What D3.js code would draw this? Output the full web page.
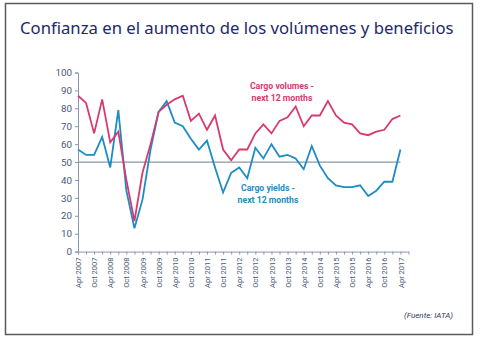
<!DOCTYPE html>
<html lang="es">
<head>
  <meta charset="UTF-8">
  <title>Confianza en el aumento de los volúmenes y beneficios</title>
  <script src="https://d3js.org/d3.v7.min.js"></script>
  <style>
    body { margin: 0; background: #fff; }
    svg { display: block; }
  </style>
</head>
<body>
  <div id="chart"></div>
  <script>
    // quarterly periods, Apr 2007 .. Apr 2017 (plus one empty quarter at the end of the axis)
    const months = ["Jan", "Apr", "Jul", "Oct"];
    const periods = [];
    for (let y = 2007; y <= 2017; y++) {
      for (const m of months) periods.push(m + " " + y);
    }
    const axisPeriods = periods.slice(1, 43); // Apr 2007 .. Jul 2017
    const dataPeriods = axisPeriods.slice(0, 41); // Apr 2007 .. Apr 2017

    const volumes = [87, 83, 66, 85, 61, 67, 40, 17, 44, 60, 78, 82, 85, 87, 73, 77, 68, 76, 57, 51,
                     57, 57, 66, 71, 66, 73, 75, 81, 70, 76, 76, 84, 76, 72, 71, 66, 65, 67, 68, 74, 76];
    const yields = [57, 54, 54, 64, 47, 79, 34, 13, 29, 57, 78, 84, 72, 70, 63, 57, 62, 47, 33, 44,
                    47, 41, 58, 52, 60, 53, 54, 52, 46, 59, 48, 41, 37, 36, 36, 37, 31, 34, 39, 39, 57];

    const yTicks = [0, 10, 20, 30, 40, 50, 60, 70, 80, 90, 100];
    const refValue = 50;

    const W = 480, H = 343;
    const svg = d3.select("#chart").append("svg")
      .attr("width", W).attr("height", H);

    // frame
    svg.append("rect")
      .attr("x", 5.5).attr("y", 3.5)
      .attr("width", 467).attr("height", 331)
      .attr("fill", "#fff")
      .attr("stroke", "#5a5a5a")
      .attr("stroke-width", 1.5);

    svg.append("text")
      .attr("x", 20).attr("y", 34)
      .attr("fill", "#1d2a66")
      .style("font-family", "'Noto Sans', sans-serif")
      .style("font-size", "16.7px")
      .text("Confianza en el aumento de los volúmenes y beneficios");

    const x = d3.scalePoint()
      .domain(axisPeriods)
      .range([78, 408.5]);

    const y = d3.scaleLinear()
      .domain([0, 100])
      .range([251.6, 72.5]);

    const axisColor = "#8a97ad";
    const textColor = "#4a5878";

    // y axis
    const yAxis = svg.append("g")
      .attr("transform", "translate(78,0)")
      .call(d3.axisLeft(y).tickValues(yTicks).tickSize(3).tickPadding(3));
    yAxis.selectAll("path, line").attr("stroke", axisColor);
    yAxis.selectAll("text")
      .attr("fill", textColor)
      .style("font-family", "Roboto, sans-serif")
      .style("font-size", "9.8px");

    // x axis
    const xAxis = svg.append("g")
      .attr("transform", "translate(0,251.6)")
      .call(d3.axisBottom(x).tickSize(3).tickSizeOuter(0)
        .tickFormat(d => (d.startsWith("Apr") || d.startsWith("Oct")) ? d : ""));
    xAxis.selectAll("path, line").attr("stroke", axisColor);
    xAxis.selectAll("text")
      .attr("fill", textColor)
      .attr("x", -6).attr("y", 0).attr("dy", "0.35em")
      .attr("transform", "rotate(-90)")
      .style("text-anchor", "end")
      .style("font-family", "Roboto, sans-serif")
      .style("font-size", "7.5px");

    // reference line at 50
    svg.append("line")
      .attr("x1", x(dataPeriods[0])).attr("x2", x(dataPeriods[dataPeriods.length - 1]))
      .attr("y1", y(refValue)).attr("y2", y(refValue))
      .attr("stroke", "#8c98a6")
      .attr("stroke-width", 1.2);

    const line = d3.line()
      .x((d, i) => x(dataPeriods[i]))
      .y(d => y(d));

    svg.append("path")
      .datum(yields)
      .attr("fill", "none")
      .attr("stroke", "#1d8cc4")
      .attr("stroke-width", 1.8)
      .attr("d", line);

    svg.append("path")
      .datum(volumes)
      .attr("fill", "none")
      .attr("stroke", "#d63a70")
      .attr("stroke-width", 1.8)
      .attr("d", line);

    function label(lines, cx, cy, color) {
      svg.append("text")
        .attr("fill", color)
        .attr("text-anchor", "middle")
        .style("font-family", "Roboto, sans-serif")
        .style("font-weight", "bold")
        .style("font-size", "8.7px")
        .selectAll("tspan")
        .data(lines)
        .join("tspan")
        .attr("x", cx)
        .attr("y", (d, i) => cy + i * 12)
        .text(d => d);
    }
    label(["Cargo volumes -", "next 12 months"], 282, 88.5, "#d63a70");
    label(["Cargo yields -", "next 12 months"], 268, 191, "#1d8cc4");

    svg.append("text")
      .attr("x", 453).attr("y", 318)
      .attr("text-anchor", "end")
      .attr("fill", "#2f3a5a")
      .style("font-family", "Roboto, sans-serif")
      .style("font-style", "italic")
      .style("font-size", "8px")
      .text("(Fuente: IATA)");
  </script>
</body>
</html>
